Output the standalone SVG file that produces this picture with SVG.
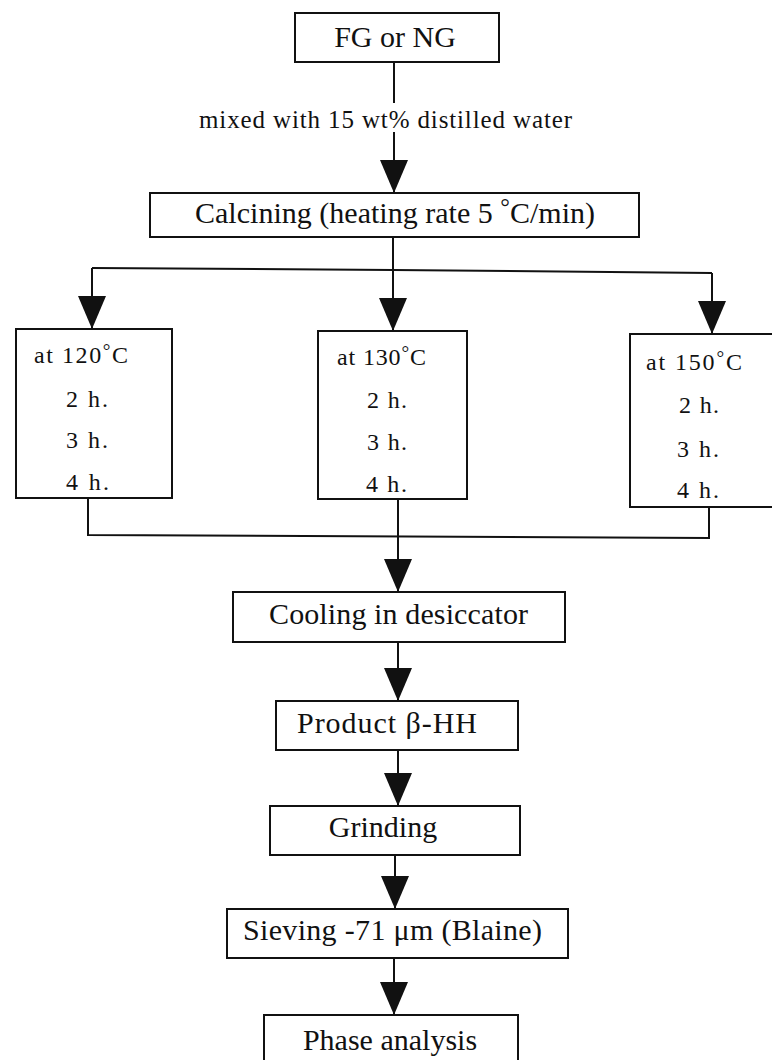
<svg xmlns="http://www.w3.org/2000/svg" width="772" height="1060" viewBox="0 0 772 1060">
<style>
.box{fill:none;stroke:#111;stroke-width:2}
.ln{fill:none;stroke:#111;stroke-width:2}
.t{font-family:"Liberation Serif","Times New Roman",serif;font-size:30px;fill:#111}
.s{font-family:"Liberation Serif","Times New Roman",serif;font-size:24px;fill:#111}
.m{font-family:"Liberation Serif","Times New Roman",serif;font-size:25px;fill:#111}
.deg{font-size:0.8em}
</style>
<defs>
<marker id="arr" markerUnits="userSpaceOnUse" markerWidth="33" markerHeight="28" refX="33" refY="14" orient="auto" viewBox="0 0 33 28">
<path d="M0,0 L33,14 L0,28 z" fill="#111"/>
</marker>
</defs>
<rect width="772" height="1060" fill="#fff"/>

<g id="connectors">
<path class="ln" d="M394 62 V103 M394 132 V193" marker-end="url(#arr)"/>
<path class="ln" d="M393 237 V270"/>
<path class="ln" d="M92 268 L393 270 L712 273"/>
<path class="ln" d="M92 268 V329" marker-end="url(#arr)"/>
<path class="ln" d="M393 270 V331" marker-end="url(#arr)"/>
<path class="ln" d="M712 273 V334" marker-end="url(#arr)"/>
<path class="ln" d="M88 498 V535 L709 538 V507"/>
<path class="ln" d="M398 499 V592" marker-end="url(#arr)"/>
<path class="ln" d="M398 642 V701" marker-end="url(#arr)"/>
<path class="ln" d="M398 750 V806" marker-end="url(#arr)"/>
<path class="ln" d="M395 855 V909" marker-end="url(#arr)"/>
<path class="ln" d="M394 958 V1015" marker-end="url(#arr)"/>
<text class="m" x="199" y="128" textLength="373">mixed with 15 wt% distilled water</text>
</g>

<g id="fg">
<rect class="box" x="295" y="13" width="204" height="49"/>
<text class="t" x="395" y="47" text-anchor="middle">FG or NG</text>
</g>

<g id="calcining">
<rect class="box" x="150" y="193" width="489" height="44"/>
<text class="t" x="195" y="223" textLength="400">Calcining (heating rate 5 <tspan class="deg" dy="-8">°</tspan><tspan dy="8">C</tspan>/min)</text>
</g>

<g id="t120">
<rect class="box" x="16" y="329" width="156" height="169"/>
<text class="s" x="34" y="363" textLength="94">at 120<tspan class="deg" dy="-6">°</tspan><tspan dy="6">C</tspan></text>
<text class="s" x="66" y="407" textLength="42">2 h.</text>
<text class="s" x="66" y="448" textLength="42">3 h.</text>
<text class="s" x="66" y="490" textLength="43">4 h.</text>
</g>

<g id="t130">
<rect class="box" x="318" y="331" width="149" height="168"/>
<text class="s" x="337" y="365" textLength="89">at 130<tspan class="deg" dy="-6">°</tspan><tspan dy="6">C</tspan></text>
<text class="s" x="367" y="408" textLength="40">2 h.</text>
<text class="s" x="367" y="450" textLength="40">3 h.</text>
<text class="s" x="366" y="492" textLength="41">4 h.</text>
</g>

<g id="t150">
<rect class="box" x="630" y="334" width="170" height="173"/>
<text class="s" x="646" y="370" textLength="96">at 150<tspan class="deg" dy="-6">°</tspan><tspan dy="6">C</tspan></text>
<text class="s" x="679" y="413" textLength="40">2 h.</text>
<text class="s" x="677" y="457" textLength="42">3 h.</text>
<text class="s" x="677" y="498" textLength="42">4 h.</text>
</g>

<g id="cooling">
<rect class="box" x="233" y="592" width="332" height="50"/>
<text class="t" x="269" y="624" textLength="259">Cooling in desiccator</text>
</g>

<g id="product">
<rect class="box" x="276" y="701" width="242" height="49"/>
<text class="t" x="297" y="733" textLength="180">Product β-HH</text>
</g>

<g id="grinding">
<rect class="box" x="270" y="806" width="250" height="49"/>
<text class="t" x="383" y="837" text-anchor="middle">Grinding</text>
</g>

<g id="sieving">
<rect class="box" x="227" y="909" width="341" height="49"/>
<text class="t" x="243" y="940" textLength="299">Sieving -71 μm (Blaine)</text>
</g>

<g id="phase">
<rect class="box" x="264" y="1015" width="254" height="60"/>
<text class="t" x="390" y="1050" text-anchor="middle">Phase analysis</text>
</g>
</svg>
